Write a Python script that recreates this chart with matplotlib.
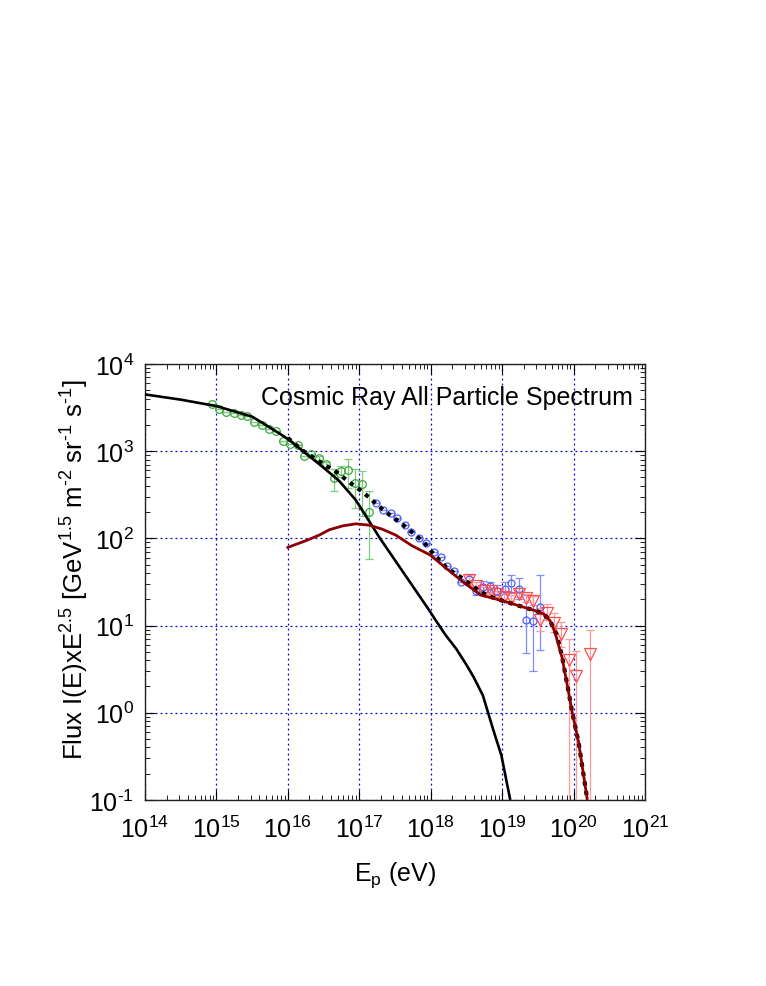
import numpy as np
import matplotlib
matplotlib.use('Agg')
import matplotlib.pyplot as plt
from matplotlib.ticker import LogLocator, NullFormatter, FuncFormatter

plt.rcParams['font.family'] = ['Liberation Sans', 'DejaVu Sans']
plt.rcParams['mathtext.fontset'] = 'custom'
plt.rcParams['mathtext.rm'] = 'Liberation Sans'
plt.rcParams['mathtext.it'] = 'Liberation Sans:italic'
plt.rcParams['mathtext.bf'] = 'Liberation Sans:bold'
plt.rcParams['axes.unicode_minus'] = False

# ---- data (log10 E [eV], log10 flux) ----
# galactic component (black solid)
gal_logE = [14.0, 14.5, 15.0, 15.5, 15.75, 16.0, 16.25, 16.5, 16.72, 16.95, 17.29, 17.95,
            18.05, 18.2, 18.36, 18.5, 18.6, 18.73, 18.87, 18.99, 19.11]
gal_logF = [3.65, 3.59, 3.516, 3.395, 3.27, 3.14, 2.975, 2.81, 2.657, 2.44, 2.0, 1.21,
            1.085, 0.90, 0.73, 0.55, 0.41, 0.20, -0.18, -0.49, -0.984]

# extragalactic component (dark red)
exg_logE = [16.0, 16.25, 16.44, 16.58, 16.77, 16.95, 17.14, 17.32, 17.51, 17.74, 17.99, 18.23,
            18.46, 18.7, 19.0, 19.23, 19.46, 19.58, 19.67, 19.74, 19.84, 19.93, 19.98, 20.07, 20.19]
exg_logF = [1.896, 1.972, 2.037, 2.098, 2.143, 2.166, 2.151, 2.105, 2.037, 1.914, 1.81, 1.648,
            1.495, 1.35, 1.285, 1.228, 1.171, 1.133, 1.056, 0.923, 0.63, 0.237, 0.008, -0.335, -0.984]

# total (black dotted)
tot_logE = [16.0, 16.2, 16.5, 16.65, 16.85, 17.05, 17.35, 17.63, 17.91, 18.0, 18.23, 18.46,
            18.67, 18.8, 19.0, 19.23, 19.46, 19.58, 19.67, 19.77, 19.84, 19.93, 19.98, 20.07, 20.19]
tot_logF = [3.15, 3.01, 2.85, 2.78, 2.65, 2.53, 2.315, 2.144, 1.953, 1.857, 1.656, 1.533,
            1.40, 1.34, 1.285, 1.228, 1.171, 1.133, 1.056, 0.88, 0.64, 0.24, 0.01, -0.335, -0.984]

# green circles
grn_logE = [14.94, 15.04, 15.14, 15.24, 15.34, 15.43, 15.53, 15.64, 15.73, 15.84, 15.93, 16.03,
            16.14, 16.23, 16.33, 16.44, 16.54, 16.64, 16.74, 16.84, 16.94, 17.04, 17.13]
grn_logF = [3.535, 3.478, 3.452, 3.432, 3.41, 3.402, 3.337, 3.295, 3.257, 3.234, 3.116, 3.078,
            3.066, 2.944, 2.967, 2.918, 2.849, 2.69, 2.77, 2.78, 2.63, 2.62, 2.30]
grn_lo = [3.535, 3.478, 3.452, 3.432, 3.41, 3.402, 3.337, 3.295, 3.257, 3.234, 3.116, 3.078,
          3.066, 2.944, 2.967, 2.90, 2.82, 2.54, 2.70, 2.58, 2.35, 2.26, 1.76]
grn_hi = [3.535, 3.478, 3.452, 3.432, 3.41, 3.402, 3.337, 3.295, 3.257, 3.234, 3.116, 3.078,
          3.066, 2.944, 2.967, 2.94, 2.88, 2.80, 2.83, 2.91, 2.79, 2.77, 2.54]

# blue circles
blu_logE = [17.23, 17.33, 17.44, 17.53, 17.64, 17.73, 17.83, 17.94, 18.04, 18.14, 18.23, 18.33,
            18.43, 18.54, 18.64, 18.73, 18.83, 18.93, 19.04, 19.13, 19.23, 19.33, 19.43, 19.53]
blu_logF = [2.41, 2.32, 2.29, 2.23, 2.15, 2.07, 2.005, 1.95, 1.84, 1.79, 1.685, 1.625,
            1.50, 1.53, 1.40, 1.445, 1.45, 1.40, 1.42, 1.484, 1.42, 1.067, 1.049, 1.208]
blu_lo = [2.41, 2.32, 2.29, 2.23, 2.15, 2.07, 2.005, 1.95, 1.84, 1.79, 1.685, 1.625,
          1.50, 1.46, 1.35, 1.38, 1.39, 1.35, 1.36, 1.37, 1.30, 0.69, 0.48, 0.725]
blu_hi = [2.41, 2.32, 2.29, 2.23, 2.15, 2.07, 2.005, 1.95, 1.84, 1.79, 1.685, 1.625,
          1.50, 1.59, 1.45, 1.51, 1.50, 1.46, 1.50, 1.58, 1.55, 1.35, 1.34, 1.58]

# red triangles
red_logE = [18.53, 18.64, 18.75, 18.84, 18.93, 19.03, 19.12, 19.23, 19.33, 19.43, 19.53, 19.63,
            19.73, 19.83, 19.93, 20.03, 20.23]
red_logF = [1.52, 1.45, 1.40, 1.40, 1.36, 1.33, 1.31, 1.36, 1.31, 1.285, 1.065, 1.14,
            1.03, 0.90, 0.61, 0.42, 0.67]
red_lo = [1.47, 1.40, 1.36, 1.36, 1.33, 1.30, 1.28, 1.33, 1.27, 1.24, 0.94, 1.06,
          0.93, 0.75, -3.0, -3.0, -3.0]
red_hi = [1.58, 1.50, 1.44, 1.44, 1.40, 1.37, 1.35, 1.40, 1.36, 1.34, 1.20, 1.25,
          1.14, 1.04, 0.85, 0.71, 0.95]


def lin(a):
    return 10.0 ** np.asarray(a)


def yerr(f, lo, hi):
    f, lo, hi = lin(f), lin(lo), lin(hi)
    return np.vstack([f - lo, hi - f])


def pow_label(v, pos):
    e = int(round(np.log10(v)))
    return '10$^{\\text{%d}}$' % e


fig = plt.figure(figsize=(7.66, 9.87), dpi=100)
ax = fig.add_axes([0.1893, 0.1885, 0.6527, 0.4418])

ax.set_xscale('log')
ax.set_yscale('log')
ax.set_xlim(1e14, 1e21)
ax.set_ylim(1e-1, 1e4)

ax.grid(True, which='major', color='#0000cc', linestyle=(0, (1.5, 2.5)), linewidth=0.9)
ax.set_axisbelow(True)

# data points
ax.errorbar(lin(grn_logE), lin(grn_logF), yerr=yerr(grn_logF, grn_lo, grn_hi),
            fmt='o', mfc='none', mec='#3aa83a', ms=5.5, mew=0.9,
            ecolor='#7ccf7c', elinewidth=0.9, capsize=3, capthick=0.9, zorder=3)
ax.errorbar(lin(blu_logE), lin(blu_logF), yerr=yerr(blu_logF, blu_lo, blu_hi),
            fmt='o', mfc='none', mec='#4a5cff', ms=5, mew=0.9,
            ecolor='#7f8cff', elinewidth=0.9, capsize=3, capthick=0.9, zorder=3)
ax.errorbar(lin(red_logE), lin(red_logF), yerr=yerr(red_logF, red_lo, red_hi),
            fmt='v', mfc='none', mec='#ff4d4d', ms=9, mew=0.9,
            ecolor='#ff9a9a', elinewidth=0.9, capsize=3, capthick=0.9, zorder=3)

# model curves
ax.plot(lin(tot_logE), lin(tot_logF), color='black', lw=3.0,
        linestyle=(0, (1.0, 1.3)), dash_capstyle='butt', zorder=4)
ax.plot(lin(gal_logE), lin(gal_logF), color='black', lw=1.9, zorder=5)
ax.plot(lin(exg_logE), lin(exg_logF), color='#8b0000', lw=2.0, zorder=5)

# ticks
ax.xaxis.set_major_locator(LogLocator(base=10, numticks=20))
ax.yaxis.set_major_locator(LogLocator(base=10, numticks=20))
ax.xaxis.set_minor_locator(LogLocator(base=10, subs=np.arange(2, 10), numticks=20))
ax.yaxis.set_minor_locator(LogLocator(base=10, subs=np.arange(2, 10), numticks=20))
ax.xaxis.set_major_formatter(FuncFormatter(pow_label))
ax.yaxis.set_major_formatter(FuncFormatter(pow_label))
ax.xaxis.set_minor_formatter(NullFormatter())
ax.yaxis.set_minor_formatter(NullFormatter())
ax.tick_params(which='both', direction='in', top=True, right=True, labelsize=18)
ax.tick_params(which='major', length=7, width=0.8)
ax.tick_params(which='minor', length=3.5, width=0.6)
ax.tick_params(axis='x', which='major', pad=11)
ax.tick_params(axis='y', which='major', pad=8)
for s in ax.spines.values():
    s.set_linewidth(1.0)
    s.set_color('#222222')

ax.set_xlabel('E$_{\\mathrm{p}}$ (eV)', fontsize=18)
ax.xaxis.set_label_coords(0.5, -0.135)
ax.set_ylabel('Flux I(E)xE$^{2.5}$ [GeV$^{1.5}$ m$^{\\text{-2}}$ sr$^{\\text{-1}}$ s$^{\\text{-1}}$]',
              fontsize=18.5)
ax.yaxis.set_label_coords(-0.108, 0.53)

ax.text(0.976, 0.924, 'Cosmic Ray All Particle Spectrum', transform=ax.transAxes,
        ha='right', va='center', fontsize=18, color='black', zorder=6)

fig.savefig('out.png', dpi=100, facecolor='white')
